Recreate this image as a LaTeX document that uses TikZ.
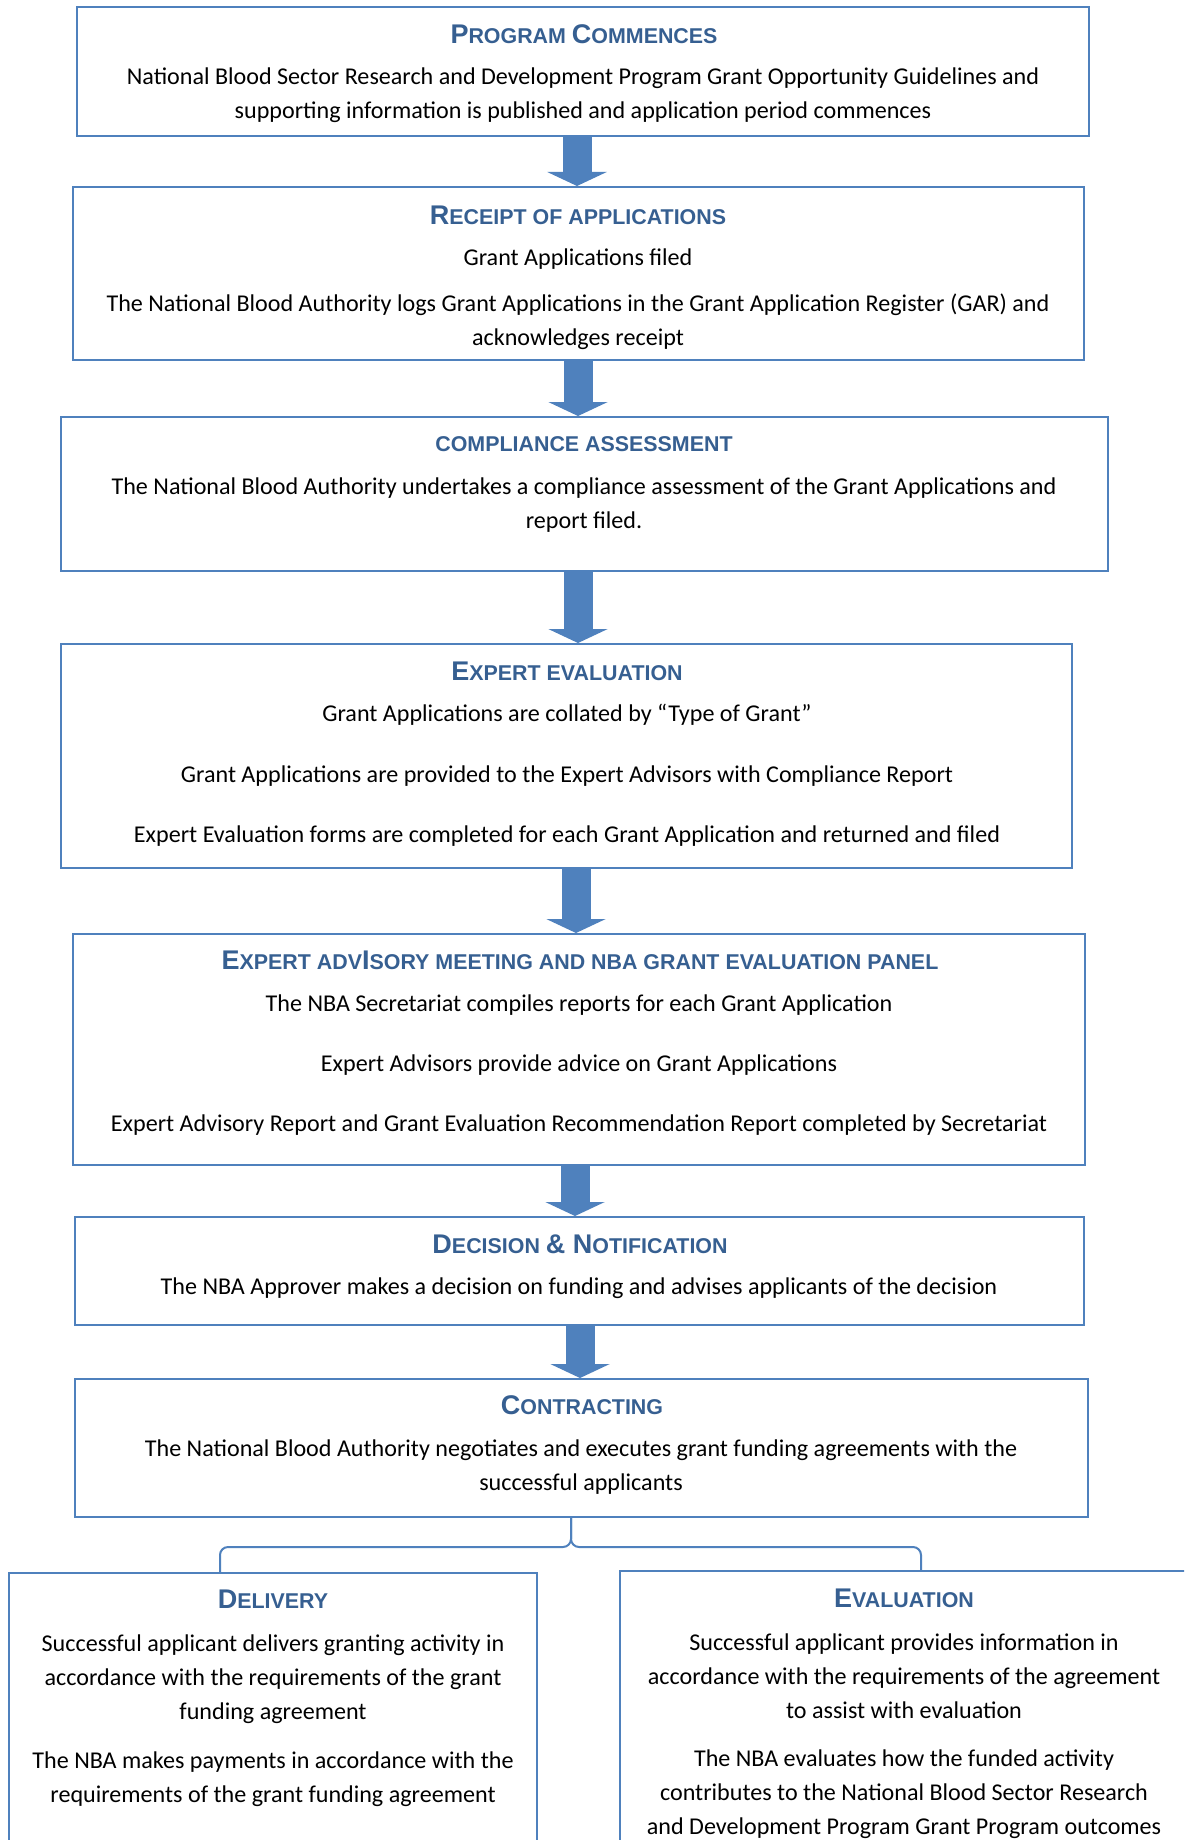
\documentclass[tikz,border=0pt]{standalone}
\usepackage{fontspec}
\setmainfont{Carlito}
\newfontfamily\headfont{Liberation Sans}
\usetikzlibrary{arrows.meta,fit}
\definecolor{boxblue}{HTML}{4F81BD}
\definecolor{headblue}{HTML}{365F91}
\definecolor{arrowblue}{HTML}{4F81BD}
\newcommand\hB[1]{{\fontsize{13.5}{15}\selectfont #1}}
\newcommand\hS[1]{{\fontsize{10.7}{12}\selectfont #1}}
\tikzset{
  box/.style={draw=boxblue, line width=1pt, inner sep=0pt},
  head/.style={font=\headfont\bfseries, text=headblue, inner sep=0pt},
  body/.style={font=\fontsize{12.05}{17}\selectfont, align=center, inner sep=0pt, yshift=-1.1pt},
  bigarrow/.style={draw=arrowblue, line width=14.5pt, line cap=butt,
    -{Triangle[width=29.5pt,length=7pt]}},
  conn/.style={draw=boxblue, line width=1pt, rounded corners=4pt}
}
\begin{document}
\begin{tikzpicture}[x=0.5pt,y=-0.5pt]
\useasboundingbox (0,0) rectangle (1184,1840);
\clip (0,0) rectangle (1184,1840);
\fill[white] (0,0) rectangle (1184,1840);
% boxes
\node[box, fit={(77,7) (1089,136)}] (b1) {};
\node[box, fit={(73,187) (1084,360)}] (b2) {};
\node[box, fit={(61,417) (1108,571)}] (b3) {};
\node[box, fit={(61,644) (1072,868)}] (b4) {};
\node[box, fit={(73,934) (1085,1165)}] (b5) {};
\node[box, fit={(75,1217) (1084,1325)}] (b6) {};
\node[box, fit={(75,1379) (1088,1517)}] (b7) {};
\node[box, fit={(9,1573) (537,1870)}] (b8) {};
\node[box, fit={(620,1571) (1210,1870)}] (b9) {};
% box 1
\node[head] (b1h) at (584,34) {\hB{P}\hS{ROGRAM }\hB{C}\hS{OMMENCES}};
\node[body] (b1t) at (583,93) {National Blood Sector Research and Development Program Grant Opportunity Guidelines and\\supporting information is published and application period commences};
% box 2
\node[head] (b2h) at (578,215) {\hB{R}\hS{ECEIPT OF APPLICATIONS}};
\node[body] (b2a) at (578,257) {Grant Applications filed};
\node[body] (b2b) at (578,320) {The National Blood Authority logs Grant Applications in the Grant Application Register (GAR) and\\acknowledges receipt};
% box 3
\node[head] (b3h) at (584,444) {\hS{COMPLIANCE ASSESSMENT}};
\node[body] (b3t) at (584,502.5) {The National Blood Authority undertakes a compliance assessment of the Grant Applications and\\report filed.};
% box 4
\node[head] (b4h) at (567,671) {\hB{E}\hS{XPERT EVALUATION}};
\node[body] (b4a) at (567,713) {Grant Applications are collated by “Type of Grant”};
\node[body] (b4b) at (567,774) {Grant Applications are provided to the Expert Advisors with Compliance Report};
\node[body] (b4c) at (567,834) {Expert Evaluation forms are completed for each Grant Application and returned and filed};
% box 5
\node[head] (b5h) at (580,960) {\hB{E}\hS{XPERT ADV}\hB{I}\hS{SORY MEETING AND NBA GRANT EVALUATION PANEL}};
\node[body] (b5a) at (579,1003) {The NBA Secretariat compiles reports for each Grant Application};
\node[body] (b5b) at (579,1063) {Expert Advisors provide advice on Grant Applications};
\node[body] (b5c) at (579,1123) {Expert Advisory Report and Grant Evaluation Recommendation Report completed by Secretariat};
% box 6
\node[head] (b6h) at (580,1244) {\hB{D}\hS{ECISION }\hB{\& N}\hS{OTIFICATION}};
\node[body] (b6t) at (579,1286) {The NBA Approver makes a decision on funding and advises applicants of the decision};
% box 7
\node[head] (b7h) at (582,1405) {\hB{C}\hS{ONTRACTING}};
\node[body] (b7t) at (581,1464.5) {The National Blood Authority negotiates and executes grant funding agreements with the\\successful applicants};
% delivery
\node[head] (b8h) at (273,1599) {\hB{D}\hS{ELIVERY}};
\node[body] (b8a) at (273,1677) {Successful applicant delivers granting activity in\\accordance with the requirements of the grant\\funding agreement};
\node[body] (b8b) at (273,1777) {The NBA makes payments in accordance with the\\requirements of the grant funding agreement};
% evaluation
\node[head] (b9h) at (904,1598) {\hB{E}\hS{VALUATION}};
\node[body] (b9a) at (904,1674) {Successful applicant provides information in\\accordance with the requirements of the agreement\\to assist with evaluation};
\node[body] (b9b) at (904,1792) {The NBA evaluates how the funded activity\\contributes to the National Blood Sector Research\\and Development Program Grant Program outcomes};
% arrows
\draw[bigarrow] (577,0 |- b1.south) -- (577,0 |- b2.north);
\draw[bigarrow] (578,0 |- b2.south) -- (578,0 |- b3.north);
\draw[bigarrow] (578,0 |- b3.south) -- (578,0 |- b4.north);
\draw[bigarrow] (576,0 |- b4.south) -- (576,0 |- b5.north);
\draw[bigarrow] (575,0 |- b5.south) -- (575,0 |- b6.north);
\draw[bigarrow] (580,0 |- b6.south) -- (580,0 |- b7.north);
% brace
\draw[conn] (220,0 |- b8.north) -- (220,1547) -- (571,1547) -- (571,0 |- b7.south);
\draw[conn] (921,0 |- b9.north) -- (921,1547) -- (571,1547) -- (571,0 |- b7.south);
\end{tikzpicture}
\end{document}
